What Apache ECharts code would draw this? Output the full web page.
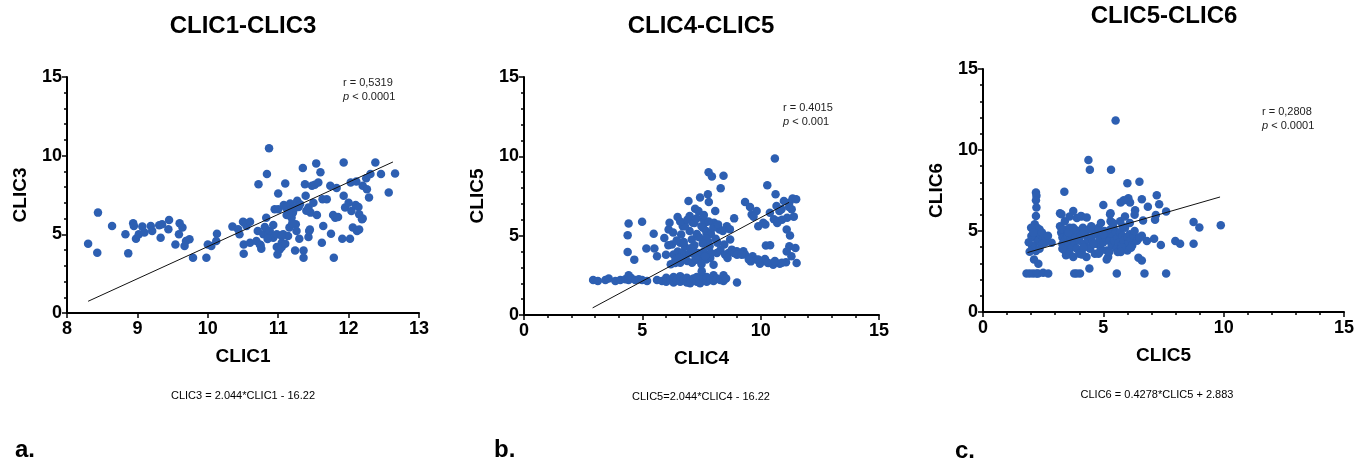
<!DOCTYPE html>
<html>
<head>
<meta charset="utf-8">
<script src="https://cdn.jsdelivr.net/npm/echarts@6/dist/echarts.min.js"></script>
<style>
html,body{margin:0;padding:0;background:#fff;}
#main{width:1368px;height:461px;}
</style>
</head>
<body>
<div id="main"></div>
<script>
// CLIC1 vs CLIC3
var pointsA = [
  [8.30,4.40],[8.43,3.83],[8.44,6.38],[8.64,5.53],[8.83,5.0],[8.87,3.79],[8.94,5.70],[8.95,5.53],[8.98,4.72],
  [9.02,5.0],[9.07,5.49],[9.10,5.11],[9.19,5.53],[9.21,5.21],[9.31,5.57],[9.33,4.79],[9.35,5.64],[9.44,5.32],
  [9.45,5.91],[9.54,4.36],[9.59,5.0],[9.60,5.70],[9.64,5.43],[9.67,4.26],[9.69,4.57],[9.74,4.68],[9.79,3.51],
  [9.98,3.51],[10.0,4.36],[10.05,4.26],[10.13,5.04],[10.12,4.57],[10.35,5.49],[10.43,5.32],[10.45,5.0],
  [10.51,4.36],[10.51,3.77],[10.52,5.74],[10.55,5.53],[10.60,4.47],[10.69,4.57],[10.71,5.21],[10.72,8.19],
  [10.74,4.36],[10.76,4.09],[10.79,5.0],[10.81,5.47],[10.83,6.06],[10.84,8.83],[10.87,10.47],[10.86,5.0],
  [10.88,5.21],[10.90,4.89],[10.93,5.6],[10.93,4.79],[10.98,5.0],[10.98,4.19],[10.99,3.72],[11.0,7.6],
  [11.0,6.6],[11.02,4.04],[11.05,4.47],[11.07,5.0],[11.08,6.87],[11.10,8.23],[11.11,6.7],[11.12,6.23],
  [11.14,4.89],[11.16,5.43],[11.17,6.96],[11.19,6.6],[11.19,6.06],[11.21,6.38],[11.24,3.98],[11.25,5.64],
  [11.26,5.21],[11.27,7.13],[11.29,6.74],[11.30,4.72],[11.31,6.91],[11.35,9.21],[11.36,3.98],[11.36,3.51],
  [11.38,8.19],[11.39,7.45],[11.43,6.7],[11.43,4.83],[11.44,5.21],[11.46,6.38],[11.48,8.09],[11.52,8.15],
  [11.54,9.51],[11.55,6.23],[11.57,8.30],[11.60,8.94],[11.62,4.47],[11.63,7.23],[11.64,5.53],[11.69,7.23],
  [11.74,8.09],[11.75,5.04],[11.78,6.23],[11.79,3.51],[11.81,6.06],[11.83,7.94],[11.91,4.72],[11.93,9.57],
  [11.93,7.45],[11.95,6.7],[12.02,4.72],[12.03,8.30],[12.04,6.49],[12.06,5.43],[12.10,6.87],[12.11,8.36],
  [12.12,5.21],[12.14,6.74],[12.15,6.28],[12.19,5.96],[12.20,8.09],[12.25,8.57],[12.26,7.87],[12.29,7.34],
  [12.31,8.83],[12.38,9.57],[12.46,8.83],[12.57,7.66],[12.66,8.87],
  [10.5,5.8],[10.75,4.3],[10.85,4.7],[11.05,4.2],[11.1,4.4],[11.2,5.7],[11.25,6.7],[11.15,6.3],[11.4,6.5],
  [11.45,5.3],[11.5,7.0],[11.85,6.1],[12.0,7.0],[12.15,5.3],[12.2,6.0],[10.6,5.8],[11.05,4.9],[10.95,6.6]
];
var fitA = [[8.3,0.745],[12.63,9.6]];

// CLIC4 vs CLIC5
var pointsB = [
  [2.92,2.2],[3.12,2.15],[3.44,2.2],[3.58,2.3],[3.86,2.15],[4.07,2.2],[4.28,2.25],[4.42,2.5],[4.42,2.2],
  [4.52,2.35],[4.7,2.2],[4.85,2.25],[4.99,2.2],[5.2,2.15],[5.62,2.2],[5.83,2.15],[6.01,2.35],[6.01,2.1],
  [6.18,2.2],[6.32,2.05],[6.32,2.4],[6.46,2.2],[6.6,2.1],[6.6,2.45],[6.74,2.2],[6.88,2.05],[6.88,2.35],
  [7.02,2.2],[7.02,2.0],[7.16,2.3],[7.3,2.1],[7.3,2.4],[7.44,2.2],[7.44,2.0],[7.58,2.35],[7.72,2.1],
  [7.72,2.4],[7.87,2.2],[8.01,2.5],[8.01,2.15],[8.15,2.3],[8.29,2.2],[8.43,2.5],[8.43,2.15],[8.54,2.3],[9.0,2.05],
  [4.42,5.77],[4.38,5.03],[4.38,3.97],[4.66,3.49],[4.99,5.88],[5.17,4.19],[5.48,5.12],[5.51,4.19],[5.62,3.7],
  [5.93,4.86],[6.11,5.39],[6.15,5.81],[6.25,4.44],[6.32,3.81],[6.39,3.28],[6.49,6.17],[6.6,4.55],[6.64,5.07],
  [6.71,5.6],[6.81,3.7],[6.95,7.19],[7.0,6.24],[7.09,4.76],[7.13,5.81],[7.16,4.02],[7.23,6.7],[7.3,3.49],
  [7.37,6.55],[7.44,7.4],[7.51,2.75],[7.56,5.5],[7.65,5.81],[7.72,5.14],[7.77,7.61],[7.8,8.99],[7.81,7.12],
  [7.84,4.33],[7.87,3.59],[7.94,8.73],[8.01,3.17],[8.03,5.81],[8.08,6.55],[8.15,3.91],[8.17,4.55],[8.26,5.39],
  [8.31,7.99],[8.43,8.77],[8.46,4.44],[8.57,5.6],[8.64,3.91],[8.71,4.76],[8.78,4.12],[8.88,6.09],[8.99,4.02],
  [9.27,4.02],[9.34,7.12],[9.34,3.81],[9.55,6.81],[9.58,3.38],[9.62,6.34],[9.66,3.7],[9.83,6.55],[9.83,3.49],
  [9.97,3.23],[10.11,5.81],[10.18,3.53],[10.22,4.38],[10.28,8.18],[10.32,3.28],[10.39,6.45],[10.53,3.17],
  [10.56,6.03],[10.6,9.87],[10.63,7.61],[10.67,6.87],[10.74,5.92],[10.79,6.55],[10.81,3.23],[10.88,6.66],
  [10.98,7.19],[11.07,3.32],[11.1,5.39],[11.12,6.13],[11.21,4.33],[11.21,7.08],[11.24,5.01],[11.35,7.34],
  [11.31,6.66],[11.47,4.23],[11.52,3.28],
  [6.2,3.2],[6.4,3.5],[6.5,4.0],[6.6,3.3],[6.7,3.9],[6.8,4.3],[6.9,3.4],[7.0,3.9],[7.0,5.3],[7.1,3.3],
  [7.2,4.4],[7.3,5.1],[7.4,3.6],[7.4,4.9],[7.5,3.2],[7.5,5.6],[7.6,4.0],[7.6,6.0],[7.7,3.5],[7.7,5.3],
  [7.8,4.6],[7.8,5.9],[7.9,3.9],[7.9,5.1],[8.0,5.5],[8.1,4.8],[8.2,5.7],[8.3,4.1],[8.4,5.3],[6.8,5.6],
  [6.6,5.9],[6.3,5.2],[6.1,4.4],[6.0,3.8],[6.9,6.0],[7.2,5.8],[7.3,6.1],[7.6,6.3],[7.7,4.8],[8.5,3.8],
  [8.6,3.6],[8.7,5.4],[8.9,3.9],[9.0,3.8],[9.2,3.8],[9.5,3.5],[9.9,3.5],[10.3,3.3],[10.6,3.4],[10.9,3.3],
  [11.1,4.0],[11.3,3.7],[11.4,6.2],[11.5,7.3],[11.2,6.8],[10.9,6.0],[10.7,5.8],[10.4,4.4],[10.2,5.7],
  [9.9,5.6],[9.7,6.2],[6.45,4.7],[6.75,4.6],[7.05,4.2],[7.35,3.9],[7.55,4.5],[7.25,3.6],[6.55,3.6],[7.65,3.7]
];
var fitB = [[2.9,0.45],[11.2,7.1]];

// CLIC5 vs CLIC6
var pointsC = [
  [2.2,7.38],[2.22,7.17],[2.2,6.9],[2.22,6.45],[2.2,5.93],[2.15,5.41],[2.25,5.2],[2.1,5.0],[2.3,4.79],
  [2.15,4.59],[2.28,4.38],[2.1,4.07],[2.2,3.76],[2.12,3.24],[2.3,2.98],[2.01,4.69],[2.04,4.07],[2.4,4.79],
  [2.5,4.59],[2.57,4.28],[2.85,4.28],[1.94,3.72],[2.35,5.1],[2.45,4.9],[2.6,4.5],[2.7,4.7],[2.35,3.9],
  [2.0,5.2],[2.1,4.9],[2.45,4.2],[1.9,4.3],
  [1.81,2.38],[1.94,2.38],[2.08,2.38],[2.22,2.38],[2.29,2.38],[2.5,2.42],[2.71,2.38],[3.79,2.38],[3.89,2.38],
  [4.03,2.38],[5.56,2.38],[6.71,2.38],[7.61,2.38],
  [3.2,5.3],[3.25,4.9],[3.3,4.6],[3.3,4.2],[3.35,5.1],[3.4,3.8],[3.4,4.4],[3.45,3.5],[3.5,5.0],[3.5,4.7],
  [3.55,4.1],[3.6,3.6],[3.6,5.2],[3.65,4.5],[3.7,4.0],[3.7,4.8],[3.75,3.4],[3.8,5.1],[3.8,4.3],[3.85,4.6],
  [3.9,3.9],[3.95,5.0],[4.0,4.4],[4.05,4.7],[4.1,3.7],[4.15,5.2],[4.2,4.2],[4.25,4.8],[4.3,3.4],[4.35,4.5],
  [4.4,5.1],[4.45,3.9],[4.5,4.6],[4.55,4.3],[4.6,5.0],[4.65,3.6],[4.7,4.8],[4.75,4.2],[4.8,5.2],[4.85,4.5],
  [4.9,3.9],[4.95,4.7],[5.0,4.3],[5.05,5.0],[5.1,4.6],[5.15,3.8],[5.2,4.9],[5.25,4.4],[5.3,5.1],[5.35,4.1],
  [5.4,4.7],[5.45,4.4],[5.5,5.0],[5.55,3.9],[5.6,4.6],[5.65,4.3],[5.7,4.9],[5.75,4.1],[5.8,4.7],[5.85,4.4],
  [5.9,5.2],[5.95,4.0],[6.0,4.6],[6.05,4.3],[6.1,4.8],[6.15,4.5],[6.2,4.1],[6.25,4.7],[3.3,3.9],[3.55,4.9],
  [3.75,5.2],[4.0,3.6],[4.2,5.0],[4.4,4.0],[4.6,4.2],[4.8,3.6],[5.0,4.8],[5.2,3.4],[5.4,5.3],[5.6,3.7],
  [5.8,5.3],[6.0,3.8],[3.4,5.6],[3.2,6.1],[3.6,5.9],[3.9,5.8],[4.1,5.9],[4.5,5.3],[4.9,5.5],[5.3,5.6],
  [5.7,5.6],[6.1,5.5],[6.3,5.0],[6.4,4.4],[6.5,4.6],[6.6,4.7],
  [3.38,7.42],[3.26,6.03],[3.75,6.24],[4.07,5.93],[4.31,5.83],[4.38,9.38],[4.44,8.78],[5.32,8.78],[5.51,11.82],
  [5.0,6.61],[5.28,6.03],[5.72,6.76],[6.0,7.95],[6.04,7.02],[6.11,6.76],[6.32,6.28],[6.5,8.04],[6.6,6.96],
  [6.85,6.49],[7.22,7.21],[7.18,5.99],[7.32,6.65],[7.61,6.2],[8.75,5.56],[8.99,5.21],[9.88,5.35],[7.99,4.38],
  [8.19,4.21],[8.75,4.21],[7.39,4.13],[7.11,4.52],[6.81,4.38],[6.5,4.59],[6.46,3.35],[6.6,3.18],[6.15,3.97],
  [5.76,4.0],[5.72,3.7],[5.14,3.24],[5.25,3.72],[4.86,3.72],[4.42,2.69],[4.1,3.55],[4.17,4.0],[5.3,6.1],
  [5.9,5.9],[6.3,6.0],[5.85,6.9],[6.65,5.65],[7.15,5.7],[5.4,5.5]
];
var fitC = [[1.85,3.67],[9.85,7.1]];

var xTicksA = [8, 13, 1];
var xTicksBC = [0, 15, 5];
var yTicks = [0, 15, 5];

var dotColor = '#2d5fb2';
var font = '"Liberation Sans", Arial, sans-serif';

function xAxis(grid, name, t, minor){
    return {
        type: 'value', gridIndex: grid, min: t[0], max: t[1], interval: t[2],
        name: name, nameLocation: 'middle', nameGap: 34,
        nameTextStyle: {color: '#000', fontWeight: 'bold', fontSize: 19, fontFamily: font},
        axisLine: {show: true, onZero: false, lineStyle: {color: '#000', width: 2}},
        axisTick: {show: true, length: 5, lineStyle: {color: '#000', width: 1.5}},
        minorTick: {show: minor, splitNumber: 5, length: 3, lineStyle: {color: '#000', width: 1.5}},
        axisLabel: {color: '#000', fontWeight: 'bold', fontSize: 18, fontFamily: font, margin: 7},
        splitLine: {show: false}
    };
}
function yAxis(grid, name){
    return {
        type: 'value', gridIndex: grid, min: yTicks[0], max: yTicks[1], interval: yTicks[2],
        name: name, nameLocation: 'middle', nameGap: 37,
        nameTextStyle: {color: '#000', fontWeight: 'bold', fontSize: 19, fontFamily: font},
        axisLine: {show: true, onZero: false, lineStyle: {color: '#000', width: 2}},
        axisTick: {show: true, length: 5, lineStyle: {color: '#000', width: 1.5}},
        minorTick: {show: true, splitNumber: 5, length: 3, lineStyle: {color: '#000', width: 1.5}},
        axisLabel: {color: '#000', fontWeight: 'bold', fontSize: 18, fontFamily: font, margin: 5},
        splitLine: {show: false}
    };
}
function scatter(i, data){
    return {type: 'scatter', xAxisIndex: i, yAxisIndex: i, data: data, symbolSize: 8.5,
        itemStyle: {color: dotColor, opacity: 1}, silent: true};
}
function fit(i, data){
    return {type: 'line', xAxisIndex: i, yAxisIndex: i, data: data, symbol: 'none', z: 5,
        lineStyle: {color: '#111', width: 1}, silent: true};
}
function txt(x, y, text, size, bold, align){
    return {type: 'text', x: x, y: y, style: {text: text, fill: '#000',
        font: (bold ? 'bold ' : '') + size + 'px ' + font, align: align || 'center', verticalAlign: 'middle'}};
}
function stat(x, y, r, p){
    return {type: 'text', x: x, y: y, style: {
        text: '{n|r = ' + r + '}\n{i|p}{n| < ' + p + '}',
        rich: {
            n: {fontSize: 11, fontFamily: font, fill: '#222', lineHeight: 14},
            i: {fontSize: 11, fontFamily: font, fontStyle: 'italic', fill: '#222', lineHeight: 14}
        },
        align: 'left', verticalAlign: 'top'}};
}

var myChart = echarts.init(document.getElementById('main'));
myChart.setOption({
    animation: false,
    grid: [
        {left: 67, top: 77, width: 352, height: 236},
        {left: 524, top: 77, width: 355, height: 238},
        {left: 983, top: 69, width: 361, height: 243}
    ],
    xAxis: [xAxis(0, 'CLIC1', xTicksA, false), xAxis(1, 'CLIC4', xTicksBC, true), xAxis(2, 'CLIC5', xTicksBC, true)],
    yAxis: [yAxis(0, 'CLIC3'), yAxis(1, 'CLIC5'), yAxis(2, 'CLIC6')],
    series: [scatter(0, pointsA), fit(0, fitA), scatter(1, pointsB), fit(1, fitB), scatter(2, pointsC), fit(2, fitC)],
    graphic: [
        txt(243, 26, 'CLIC1-CLIC3', 24, true),
        txt(701, 26, 'CLIC4-CLIC5', 24, true),
        txt(1164, 16, 'CLIC5-CLIC6', 24, true),
        txt(243, 396, 'CLIC3 = 2.044*CLIC1 - 16.22', 11, false),
        txt(701, 397, 'CLIC5=2.044*CLIC4 - 16.22', 11, false),
        txt(1157, 395, 'CLIC6 = 0.4278*CLIC5 + 2.883', 11, false),
        txt(15, 450, 'a.', 24, true, 'left'),
        txt(494, 450, 'b.', 24, true, 'left'),
        txt(955, 451, 'c.', 24, true, 'left'),
        stat(343, 76, '0,5319', '0.0001'),
        stat(783, 101, '0.4015', '0.001'),
        stat(1262, 105, '0,2808', '0.0001')
    ]
});
</script>
</body>
</html>
